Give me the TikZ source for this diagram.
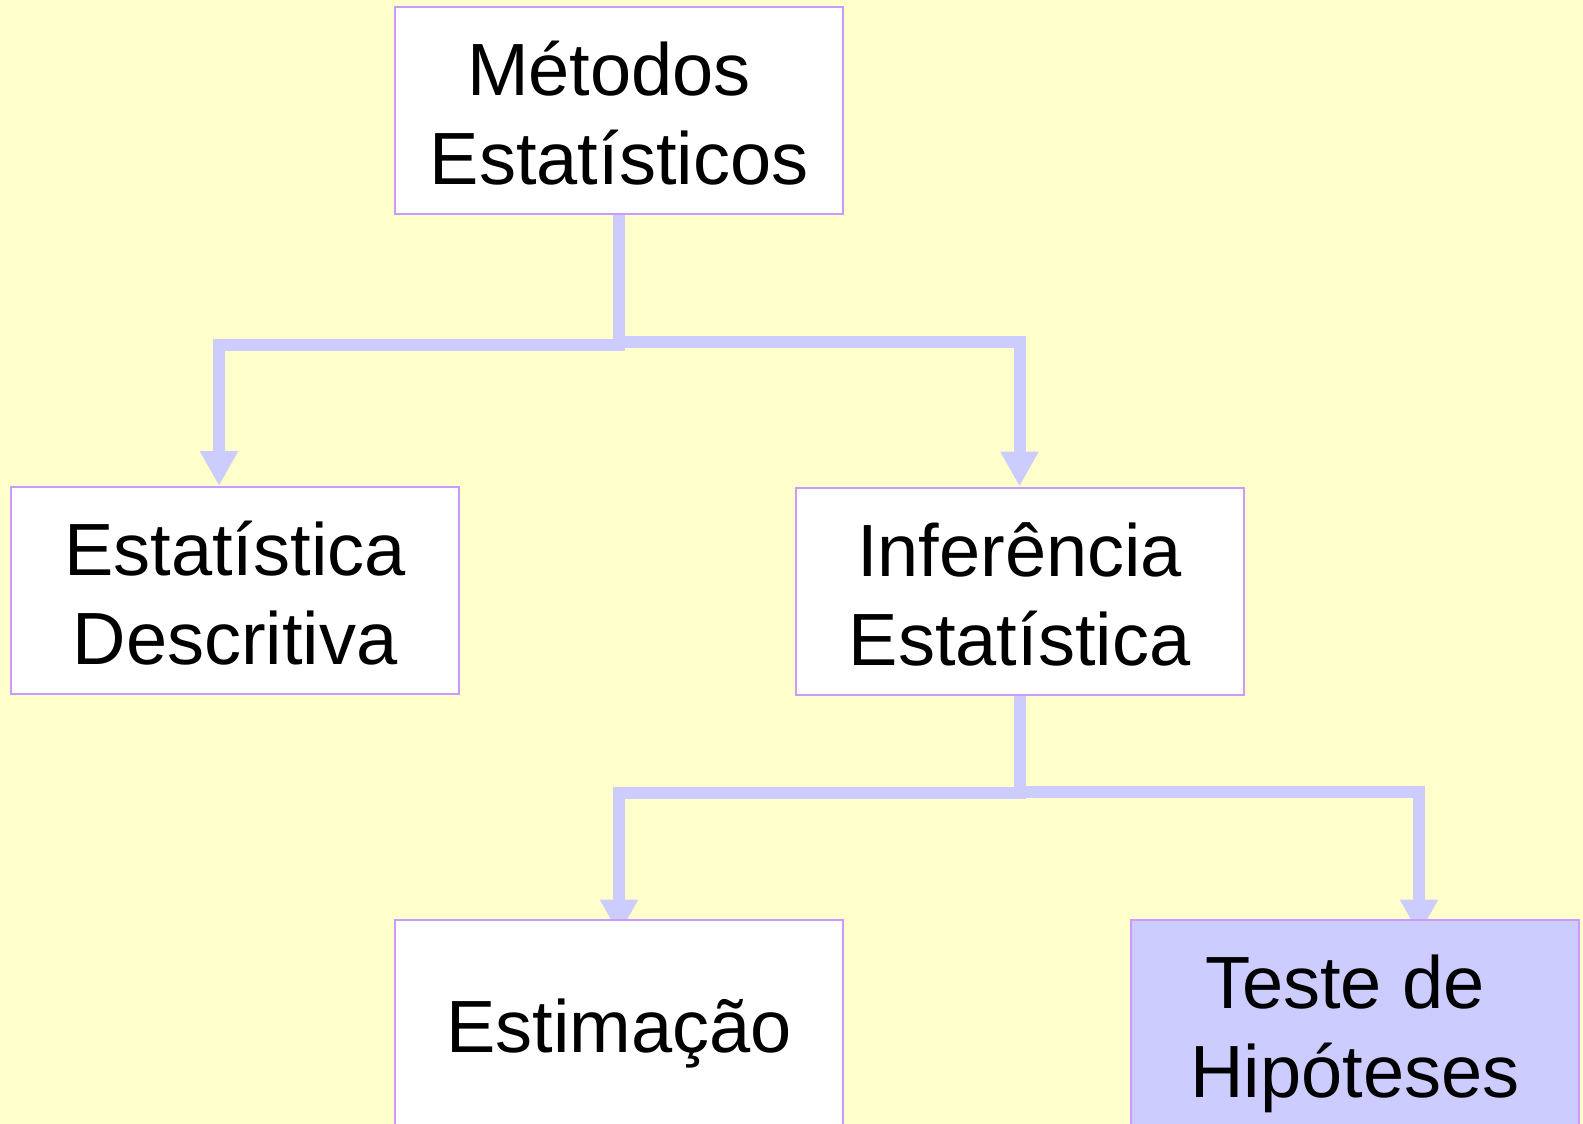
\documentclass[tikz,border=0pt]{standalone}
\usepackage{fontspec}
\setmainfont{Liberation Sans}
\usetikzlibrary{arrows.meta}
\definecolor{bgyellow}{HTML}{FFFFCC}
\definecolor{connblue}{HTML}{CCCCFF}
\definecolor{edgeviolet}{HTML}{CC99FF}
\pgfdeclarelayer{bottom}
\pgfdeclarelayer{background}
\pgfsetlayers{bottom,background,main}
\begin{document}
\begin{tikzpicture}[x=1pt,y=-1pt,
  box/.style={draw=edgeviolet, line width=2pt, fill=white, minimum width=448pt,
    minimum height=207pt, inner sep=0pt, align=center,
    font=\fontsize{74}{89}\selectfont},
  twoline/.style={text height=148pt, text depth=0pt},
  oneline/.style={text height=59pt, text depth=0pt},
  link/.style={draw=connblue, line width=12pt, -{Triangle[width=36pt,length=35pt]}},
]
\begin{pgfonlayer}{bottom}
\fill[bgyellow] (0,0) rectangle (1583,1124);
\end{pgfonlayer}
\useasboundingbox (0,0) rectangle (1583,1124);
\clip (0,0) rectangle (1583,1124);

\node[box,twoline] (met) at (619,110.5) {Métodos\kern20pt\\Estatísticos};
\node[box,twoline] (desc) at (235,590.5) {Estatística\\Descritiva};
\node[box,twoline] (inf) at (1019.5,591) {Inferência\\Estatística};
\node[box,oneline] (est) at (619,1023) {Estimação};
\node[box,twoline,fill=connblue] (teste) at (1355,1023) {Teste de\kern20pt\\Hipóteses};

\begin{pgfonlayer}{background}
\draw[link] (met.south) -- ++(0,129.5) -| ([xshift=-16pt]desc.north);
\draw[link] (met.south) -- ++(0,126.5) -| (inf.north);
\draw[link] (inf.south) -- ++(0,97.5) -| ([yshift=-16pt]est.north);
\draw[link] (inf.south) -- ++(0,96.5) -| ([xshift=64pt,yshift=-16pt]teste.north);
\end{pgfonlayer}
\end{tikzpicture}
\end{document}
